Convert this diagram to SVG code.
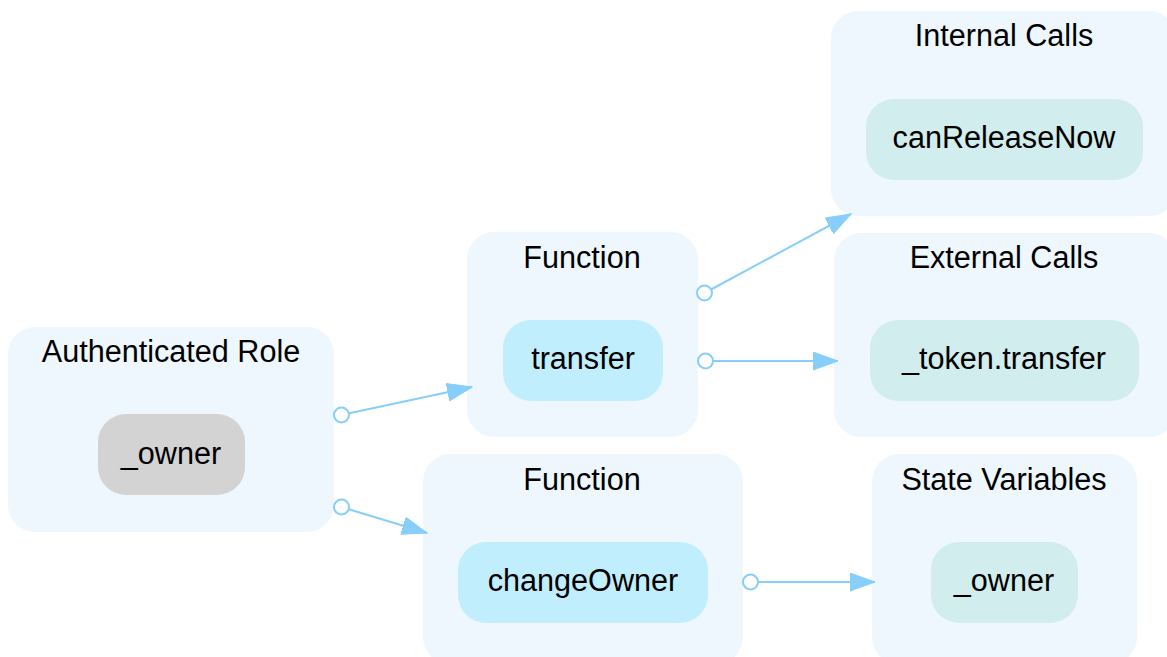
<svg xmlns="http://www.w3.org/2000/svg" width="1167" height="657" viewBox="0 0 1167 657">
  <style>
    .cluster { fill: #eef6fe; stroke: none; }
    .title { font-family: "Liberation Sans", Arial, sans-serif; font-size: 30.6px; fill: #000; text-anchor: middle; }
    .label { font-family: "Liberation Sans", Arial, sans-serif; font-size: 30.6px; fill: #000; text-anchor: middle; }
    .role { fill: #d3d3d3; }
    .func { fill: #c0eefd; }
    .ext { fill: #d1eded; }
    .edge { stroke: #87cefa; stroke-width: 2; fill: none; }
    .tail { fill: #ffffff; stroke: #87cefa; stroke-width: 2; }
    .head { fill: #87cefa; stroke: #87cefa; stroke-width: 1; }
  </style>
  <defs>
    <marker id="arrow" markerUnits="userSpaceOnUse" markerWidth="26" markerHeight="20" refX="25" refY="9" orient="auto">
      <polygon class="head" points="0,0 25,9 0,18"/>
    </marker>
  </defs>
  <rect width="1167" height="657" fill="#ffffff"/>

  <!-- clusters and their nodes -->
  <g id="cluster-role">
    <rect class="cluster" x="8" y="327" width="326" height="205" rx="27"/>
    <text class="title" x="171" y="362">Authenticated Role</text>
    <g id="node-role-owner">
      <rect class="role" x="98" y="414" width="147" height="81" rx="28"/>
      <text class="label" x="171" y="464">_owner</text>
    </g>
  </g>

  <g id="cluster-function-transfer">
    <rect class="cluster" x="467" y="232" width="231" height="205" rx="27"/>
    <text class="title" x="582" y="268">Function</text>
    <g id="node-transfer">
      <rect class="func" x="503" y="320" width="160" height="81" rx="28"/>
      <text class="label" x="583" y="369">transfer</text>
    </g>
  </g>

  <g id="cluster-function-changeowner">
    <rect class="cluster" x="423" y="454" width="320" height="210" rx="27"/>
    <text class="title" x="582" y="490">Function</text>
    <g id="node-changeowner">
      <rect class="func" x="458" y="542" width="250" height="81" rx="28"/>
      <text class="label" x="583" y="591">changeOwner</text>
    </g>
  </g>

  <g id="cluster-internal">
    <rect class="cluster" x="831" y="11" width="345" height="205" rx="27"/>
    <text class="title" x="1004" y="46">Internal Calls</text>
    <g id="node-canreleasenow">
      <rect class="ext" x="866" y="99" width="277" height="81" rx="28"/>
      <text class="label" x="1004" y="148">canReleaseNow</text>
    </g>
  </g>

  <g id="cluster-external">
    <rect class="cluster" x="834" y="233" width="342" height="204" rx="27"/>
    <text class="title" x="1004" y="268">External Calls</text>
    <g id="node-token-transfer">
      <rect class="ext" x="870" y="320" width="269" height="81" rx="28"/>
      <text class="label" x="1004" y="369">_token.transfer</text>
    </g>
  </g>

  <g id="cluster-state">
    <rect class="cluster" x="872" y="454" width="265" height="210" rx="27"/>
    <text class="title" x="1004" y="490">State Variables</text>
    <g id="node-state-owner">
      <rect class="ext" x="931" y="542" width="147" height="81" rx="28"/>
      <text class="label" x="1004" y="591">_owner</text>
    </g>
  </g>

  <!-- connectors: open circle at the tail, filled arrow at the head -->
  <g id="connectors">
    <line class="edge" x1="348" y1="413.5" x2="472" y2="387" marker-end="url(#arrow)"/>
    <circle class="tail" cx="341.5" cy="415" r="7.5"/>

    <line class="edge" x1="348" y1="509" x2="427" y2="533" marker-end="url(#arrow)"/>
    <circle class="tail" cx="341.5" cy="507" r="7.5"/>

    <line class="edge" x1="711" y1="289.5" x2="851" y2="214" marker-end="url(#arrow)"/>
    <circle class="tail" cx="704.5" cy="293" r="7.5"/>

    <line class="edge" x1="713" y1="361" x2="838" y2="361" marker-end="url(#arrow)"/>
    <circle class="tail" cx="705.5" cy="361" r="7.5"/>

    <line class="edge" x1="758" y1="582" x2="875" y2="582" marker-end="url(#arrow)"/>
    <circle class="tail" cx="750.5" cy="582" r="7.5"/>
  </g>
</svg>
